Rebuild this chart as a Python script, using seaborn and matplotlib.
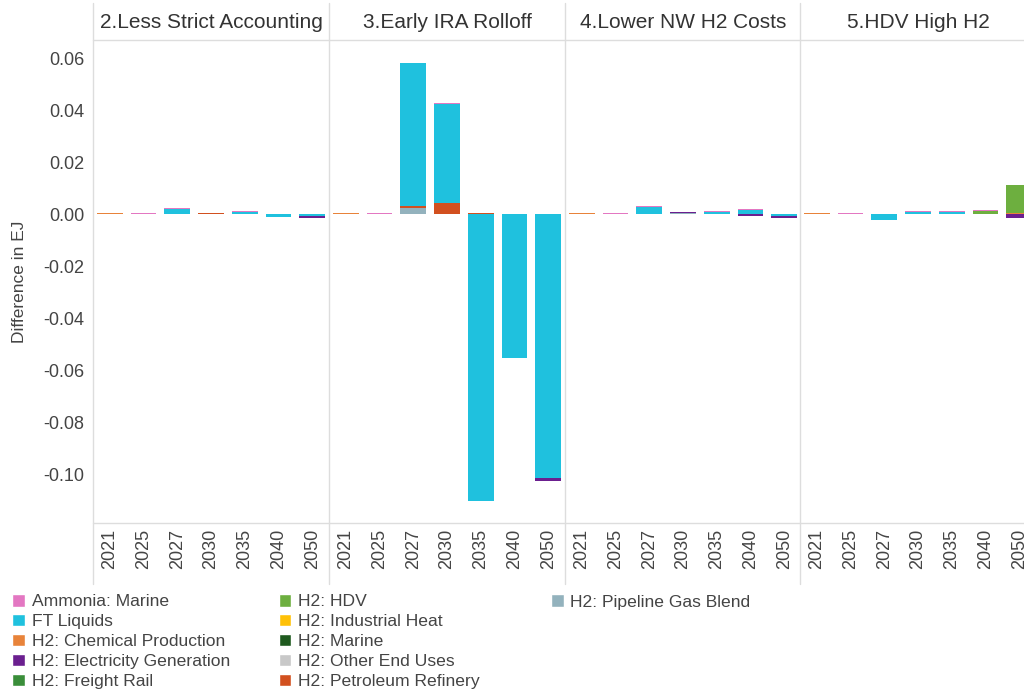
import matplotlib
matplotlib.use("Agg")
import matplotlib.pyplot as plt
from matplotlib.lines import Line2D
from matplotlib.patches import Patch
import numpy as np
import seaborn as sns


# DATA
years = ["2021", "2025", "2027", "2030", "2035", "2040", "2050"]
scenarios = ["2.Less Strict Accounting", "3.Early IRA Rolloff",
             "4.Lower NW H2 Costs", "5.HDV High H2"]

categories = ["Ammonia: Marine", "FT Liquids", "H2: Chemical Production",
              "H2: Electricity Generation", "H2: Freight Rail", "H2: HDV",
              "H2: Industrial Heat", "H2: Marine", "H2: Other End Uses",
              "H2: Petroleum Refinery", "H2: Pipeline Gas Blend"]

colors = ["#e377c2", "#1fc1de", "#e8833a", "#6b1f8f", "#3a8e3a", "#6daf3f",
          "#ffc107", "#1f5a1f", "#c8c8c8", "#d2501f", "#93b2bd"]

# values per scenario, EJ difference (only non-zero categories)
less_strict = {
    "H2: Chemical Production": [0.0005, 0, 0, 0.0003, 0, 0, 0],
    "FT Liquids": [0, 0, 0.0020, 0, 0.0010, -0.0009, -0.0006],
    "H2: Petroleum Refinery": [0, 0, 0, 0.0003, 0, 0, 0],
    "Ammonia: Marine": [0, 0.0005, 0.0004, 0.0001, 0.0004, 0, 0],
    "H2: Electricity Generation": [0, 0, 0, 0, 0, 0, -0.0007],
}
early_ira = {
    "H2: Chemical Production": [0.0005, 0, 0, 0, 0.0002, 0, 0],
    "H2: Pipeline Gas Blend": [0, 0, 0.0025, 0, 0, 0, 0],
    "H2: Petroleum Refinery": [0, 0, 0.0006, 0.0045, 0.0004, 0, 0.0003],
    "FT Liquids": [0, 0, 0.0549, 0.0378, -0.1100, -0.0550, -0.1014],
    "Ammonia: Marine": [0, 0.0005, 0.0003, 0.0004, 0, 0, 0],
    "H2: Electricity Generation": [0, 0, 0, 0, 0, 0, -0.0008],
}
lower_nw = {
    "H2: Chemical Production": [0.0005, 0, 0, 0, 0, 0, 0],
    "H2: Pipeline Gas Blend": [0, 0, 0, 0.0005, 0, 0, 0],
    "FT Liquids": [0, 0, 0.0028, 0, 0.0008, 0.0017, -0.0005],
    "H2: Electricity Generation": [0, 0, 0, 0.0004, 0.0003, -0.0006, -0.0010],
    "Ammonia: Marine": [0, 0.0005, 0.0004, 0, 0.0003, 0.0004, 0],
}
hdv_high = {
    "H2: Chemical Production": [0.0005, 0, 0, 0, 0, 0, 0.0004],
    "FT Liquids": [0, 0, -0.0022, 0.0008, 0.0010, 0, 0],
    "H2: HDV": [0, 0, 0, 0, 0, 0.0015, 0.0110],
    "Ammonia: Marine": [0, 0.0005, 0, 0.0004, 0.0004, 0.0004, 0],
    "H2: Electricity Generation": [0, 0, 0, 0, 0, 0, -0.0012],
}
panel_data = [less_strict, early_ira, lower_nw, hdv_high]


# STYLE
sns.set_theme(style="white")
plt.rcParams["font.family"] = ["Liberation Sans", "DejaVu Sans"]
plt.rcParams["axes.unicode_minus"] = False
text_col = "#444444"
line_col = "#dddddd"
palette = dict(zip(categories, colors))

W, H = 1024, 696
fig = plt.figure(figsize=(W / 100, H / 100), dpi=100)

left_px = [93, 329, 565, 800]
panel_w = 236
top_px, bottom_px = 40, 523
x = np.arange(len(years))

for i, (name, data) in enumerate(zip(scenarios, panel_data)):
    ax = fig.add_axes([left_px[i] / W, 1 - bottom_px / H,
                       panel_w / W, (bottom_px - top_px) / H])
    pos_base = np.zeros(len(years))
    neg_base = np.zeros(len(years))
    for cat, vals in data.items():
        vals = np.array(vals)
        pos = np.where(vals > 0, vals, 0)
        neg = np.where(vals < 0, vals, 0)
        ax.bar(x, pos, bottom=pos_base, width=0.76, color=palette[cat], linewidth=0)
        ax.bar(x, neg, bottom=neg_base, width=0.76, color=palette[cat], linewidth=0)
        pos_base += pos
        neg_base += neg

    ax.set_xlim(-0.5, 6.5)
    ax.set_ylim(-0.1185, 0.067)
    ax.set_xticks(x)
    ax.set_xticklabels(years, rotation=90, fontsize=13, color=text_col)
    ax.set_yticks([0.06, 0.04, 0.02, 0.0, -0.02, -0.04, -0.06, -0.08, -0.10])
    if i == 0:
        ax.set_yticklabels(["%.2f" % v for v in ax.get_yticks()],
                           fontsize=13, color=text_col)
        ax.set_ylabel("Difference in EJ", fontsize=12.5, color=text_col, labelpad=12)
    else:
        ax.set_yticklabels([])
    ax.tick_params(axis="x", length=0, pad=4)
    ax.tick_params(axis="y", length=0, pad=6)
    for s in ax.spines.values():
        s.set_visible(False)
    ax.patch.set_alpha(0)

    fig.text((left_px[i] + panel_w / 2) / W, 1 - 22 / H, name,
             ha="center", va="center", fontsize=15, color="#333333")

# panel borders
for xp in left_px:
    fig.add_artist(Line2D([xp / W, xp / W], [1 - 3 / H, 1 - 584 / H],
                          transform=fig.transFigure, color=line_col, lw=1))
for yp in [top_px, bottom_px]:
    fig.add_artist(Line2D([left_px[0] / W, 1], [1 - yp / H, 1 - yp / H],
                          transform=fig.transFigure, color=line_col, lw=1))

# LEGEND: two columns of five, plus a third column on its own
handles = [Patch(facecolor=c, label=l) for l, c in zip(categories, colors)]
leg_kw = dict(loc="upper left", frameon=False, fontsize=12.6, handlelength=0.7,
              handleheight=0.7, handletextpad=0.4, labelspacing=0.27,
              labelcolor=text_col, borderaxespad=0.3)
leg1 = fig.legend(handles=handles[:10], bbox_to_anchor=(0.0, 1 - 582 / H),
                  ncol=2, columnspacing=2.8, **leg_kw)
fig.legend(handles=handles[10:], bbox_to_anchor=(539 / W, 1 - 582 / H),
           ncol=1, **leg_kw)

fig.savefig("out.png", dpi=100)
